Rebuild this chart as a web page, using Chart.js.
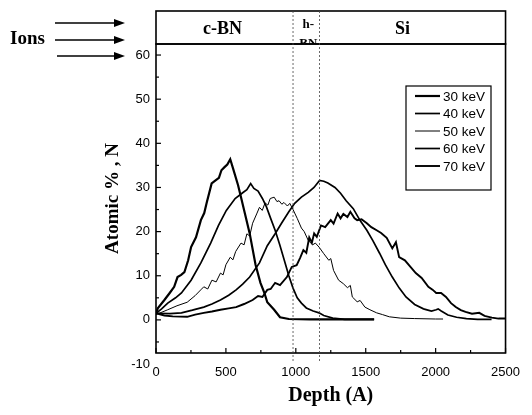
<!DOCTYPE html>
<html>
<head>
<meta charset="utf-8">
<script src="https://cdn.jsdelivr.net/npm/chart.js@4.4.1/dist/chart.umd.min.js"></script>
<style>
html,body{margin:0;padding:0;background:#fff;}
#wrap{position:relative;width:532px;height:415px;}
</style>
</head>
<body>
<div id="wrap"><canvas id="c" width="532" height="415"></canvas></div>
<script>
// ---- data ----
const seriesLabels = ["30 keV", "40 keV", "50 keV", "60 keV", "70 keV"];
const xTickValues = [0, 500, 1000, 1500, 2000, 2500];
const yTickValues = [-10, 0, 10, 20, 30, 40, 50, 60];
const layerLabels = ["c-BN", "h-", "BN", "Si"];
const layerBounds = [980, 1170];

const depth30 = [0, 14, 60, 98, 130, 154, 180, 203, 230, 251, 286, 321, 345, 363, 398, 426, 450, 468, 490, 510, 531, 552, 587, 608, 635, 670, 712, 747, 775, 796, 845, 887, 950, 1100, 1300, 1560];
const n30 = [1.5, 2.7, 4.5, 6.1, 7.5, 9.7, 10.2, 10.8, 13.5, 16.5, 18.7, 22.6, 24.2, 26.6, 30.9, 31.6, 32.2, 33.9, 34.6, 35.2, 36.4, 34.2, 30.5, 27.8, 24.2, 19.6, 12.5, 8.4, 6.1, 4.0, 2.3, 0.6, 0.2, 0.1, 0.1, 0.1];

const depth40 = [0, 40, 84, 140, 182, 251, 321, 391, 447, 503, 566, 620, 650, 677, 700, 730, 761, 790, 820, 852, 885, 915, 950, 980, 1010, 1040, 1075, 1124, 1166, 1200, 1264, 1350, 1560];
const n40 = [1.5, 2.5, 3.8, 5.0, 6.1, 9.0, 12.9, 17.4, 21.4, 24.8, 27.5, 28.8, 29.5, 30.9, 29.8, 29.2, 27.5, 25.6, 23.0, 20.3, 17.0, 13.8, 10.0, 7.2, 5.0, 3.8, 2.7, 2.0, 1.6, 1.0, 0.4, 0.1, 0.1];

const depth50 = [0, 84, 150, 223, 280, 320, 342, 370, 400, 430, 461, 480, 500, 531, 550, 570, 608, 630, 650, 670, 691, 720, 740, 760, 780, 800, 817, 845, 865, 880, 900, 915, 940, 957, 980, 1010, 1040, 1060, 1089, 1120, 1140, 1166, 1200, 1236, 1250, 1270, 1306, 1340, 1369, 1390, 1404, 1439, 1460, 1494, 1530, 1578, 1620, 1669, 1750, 1850, 2000, 2053];
const n50 = [1.2, 2.3, 3.2, 4.0, 5.5, 6.8, 7.5, 7.0, 9.0, 8.6, 10.6, 10.2, 12.5, 14.2, 13.6, 15.5, 17.4, 17.0, 19.5, 19.0, 21.9, 24.0, 25.5, 24.8, 26.5, 26.0, 27.5, 27.8, 26.8, 27.0, 26.2, 26.6, 25.8, 26.4, 25.0, 23.0, 20.8, 20.0, 18.0, 17.0, 17.4, 16.5, 15.0, 13.5, 13.9, 11.2, 9.0, 8.2, 7.3, 7.8, 5.2, 4.1, 4.4, 2.9, 2.3, 1.6, 1.2, 0.7, 0.4, 0.3, 0.2, 0.2];

const depth60 = [0, 100, 182, 260, 342, 400, 461, 520, 573, 620, 670, 740, 796, 852, 900, 950, 992, 1040, 1089, 1130, 1170, 1200, 1229, 1280, 1320, 1360, 1411, 1460, 1508, 1550, 1599, 1640, 1690, 1740, 1788, 1850, 1913, 1970, 2004, 2018, 2040, 2088, 2150, 2220, 2300, 2400];
const n60 = [1.5, 1.4, 1.6, 2.2, 2.9, 3.6, 4.5, 5.6, 6.8, 8.1, 9.7, 12.9, 16.8, 19.5, 22.0, 24.5, 26.4, 27.8, 28.9, 30.0, 31.6, 31.4, 31.0, 30.0, 28.7, 27.0, 25.2, 22.5, 20.3, 18.0, 15.1, 12.5, 9.7, 7.2, 5.2, 3.5, 2.5, 2.0, 2.3, 2.5, 2.0, 1.1, 0.6, 0.3, 0.1, 0.1];

const depth70 = [0, 60, 120, 223, 280, 342, 400, 461, 520, 573, 630, 691, 730, 761, 796, 820, 852, 887, 936, 971, 1006, 1030, 1054, 1075, 1096, 1115, 1131, 1150, 1180, 1210, 1250, 1270, 1299, 1320, 1340, 1369, 1390, 1420, 1439, 1470, 1508, 1540, 1578, 1610, 1650, 1690, 1716, 1739, 1780, 1820, 1858, 1900, 1948, 1980, 2004, 2039, 2074, 2110, 2144, 2180, 2214, 2260, 2312, 2350, 2402, 2450, 2500];
const n70 = [1.5, 1.0, 0.8, 0.7, 1.2, 1.6, 1.9, 2.3, 2.6, 2.9, 3.6, 4.5, 5.4, 5.2, 6.8, 7.0, 8.4, 7.9, 9.7, 12.0, 12.4, 14.0, 15.8, 15.2, 18.7, 17.5, 19.6, 18.8, 21.4, 21.0, 22.6, 21.8, 24.1, 23.0, 24.0, 23.3, 24.5, 23.0, 22.6, 22.8, 21.9, 21.0, 20.3, 19.7, 18.6, 16.2, 17.6, 14.2, 13.5, 12.0, 10.6, 9.5, 7.5, 6.8, 6.1, 6.1, 5.2, 3.8, 2.9, 2.2, 1.8, 1.4, 1.6, 0.9, 0.5, 0.3, 0.3];

const depths = [depth30, depth40, depth50, depth60, depth70];
const values = [n30, n40, n50, n60, n70];
const widths = [2.2, 1.7, 1.0, 1.7, 1.9];

const datasets = seriesLabels.map((lab, i) => ({
  label: lab,
  data: depths[i].map((d, j) => ({x: d, y: values[i][j]})),
  borderColor: '#000',
  backgroundColor: '#000',
  borderWidth: widths[i],
  pointRadius: 0,
  tension: 0,
  fill: false
}));

const tickFont = {family: 'Liberation Sans, Arial, sans-serif', size: 13};
const titleFamily = 'Liberation Serif, Times New Roman, serif';

const decor = {
  id: 'decor',
  afterDraw(chart) {
    const ctx = chart.ctx;
    const a = chart.chartArea;
    const xs = chart.scales.x, ys = chart.scales.y;
    ctx.save();
    ctx.strokeStyle = '#000';
    ctx.fillStyle = '#000';
    // frame
    ctx.lineWidth = 1.6;
    ctx.strokeRect(a.left, a.top, a.right - a.left, a.bottom - a.top);
    // header box
    const hTop = 11;
    ctx.strokeRect(a.left, hTop, a.right - a.left, a.top - hTop);
    // inward ticks
    ctx.lineWidth = 1.2;
    for (let v = 0; v <= 2500; v += 250) {
      const px = xs.getPixelForValue(v);
      const len = v % 500 === 0 ? 5 : 3;
      ctx.beginPath(); ctx.moveTo(px, a.bottom); ctx.lineTo(px, a.bottom - len); ctx.stroke();
    }
    for (let v = -5; v <= 60; v += 5) {
      const py = ys.getPixelForValue(v);
      const len = v % 10 === 0 ? 5 : 3;
      ctx.beginPath(); ctx.moveTo(a.left, py); ctx.lineTo(a.left + len, py); ctx.stroke();
    }
    // layer boundaries (dotted)
    ctx.lineWidth = 0.8;
    ctx.setLineDash([2, 2]);
    ctx.strokeStyle = '#444';
    layerBounds.forEach(b => {
      const px = xs.getPixelForValue(b);
      ctx.beginPath(); ctx.moveTo(px, hTop); ctx.lineTo(px, a.bottom + 10); ctx.stroke();
    });
    ctx.setLineDash([]);
    ctx.strokeStyle = '#000';
    // header labels
    const b1 = xs.getPixelForValue(layerBounds[0]);
    const b2 = xs.getPixelForValue(layerBounds[1]);
    ctx.textAlign = 'center';
    ctx.textBaseline = 'alphabetic';
    ctx.font = 'bold 18px ' + titleFamily;
    ctx.fillText(layerLabels[0], (a.left + b1) / 2 - 2, 34);
    ctx.fillText(layerLabels[3], (b2 + a.right) / 2 - 10, 34);
    ctx.save();
    ctx.beginPath(); ctx.rect(b1, hTop, b2 - b1, a.top - hTop); ctx.clip();
    ctx.font = 'bold 13px ' + titleFamily;
    ctx.fillText(layerLabels[1], (b1 + b2) / 2 + 2, 28);
    ctx.fillText(layerLabels[2], (b1 + b2) / 2 + 2, 47);
    ctx.restore();
    // Ions + arrows
    ctx.textAlign = 'left';
    ctx.font = 'bold 19px ' + titleFamily;
    ctx.fillText('Ions', 10, 44);
    ctx.lineWidth = 1.3;
    [[55, 23], [55, 40], [57, 56]].forEach(([x0, y]) => {
      const x1 = 125;
      ctx.beginPath(); ctx.moveTo(x0, y); ctx.lineTo(x1 - 8, y); ctx.stroke();
      ctx.beginPath(); ctx.moveTo(x1, y); ctx.lineTo(x1 - 11, y - 4); ctx.lineTo(x1 - 11, y + 4); ctx.closePath(); ctx.fill();
    });
    // legend
    const lx = 406, ly = 86, lw = 85, lh = 104;
    ctx.lineWidth = 1.2;
    ctx.strokeRect(lx, ly, lw, lh);
    ctx.font = '13.5px Liberation Sans, Arial, sans-serif';
    ctx.textBaseline = 'middle';
    const rows = [96, 113.5, 131, 148.5, 166];
    chart.data.datasets.forEach((ds, i) => {
      ctx.lineWidth = ds.borderWidth;
      ctx.beginPath(); ctx.moveTo(415, rows[i]); ctx.lineTo(440, rows[i]); ctx.stroke();
      ctx.fillText(ds.label, 443, rows[i] + 1);
    });
    ctx.restore();
  }
};

new Chart(document.getElementById('c'), {
  type: 'line',
  data: {datasets},
  options: {
    responsive: false,
    animation: false,
    layout: {padding: {top: 44, right: 18, left: 0, bottom: 0}},
    plugins: {legend: {display: false}, tooltip: {enabled: false}},
    scales: {
      x: {
        type: 'linear', min: 0, max: 2500,
        afterBuildTicks: s => { s.ticks = xTickValues.map(v => ({value: v})); },
        afterFit: s => { s.height = 62; },
        grid: {display: false, drawTicks: false},
        border: {display: false},
        ticks: {color: '#000', font: tickFont, padding: 12, autoSkip: false, maxRotation: 0, callback: v => String(v)},
        title: {display: true, text: 'Depth (A)', color: '#000', font: {family: titleFamily, size: 20, weight: 'bold'}, padding: {top: 0, bottom: 7}}
      },
      y: {
        type: 'linear', min: -7.5, max: 62.5,
        afterBuildTicks: s => { s.ticks = yTickValues.map(v => ({value: v})); },
        afterFit: s => { s.width = 156; },
        grid: {display: false, drawTicks: false},
        border: {display: false},
        ticks: {color: '#000', font: tickFont, padding: 6, autoSkip: false, callback: v => String(v)},
        title: {display: true, text: 'Atomic % , N', color: '#000', font: {family: titleFamily, size: 19, weight: 'bold'}, padding: {top: 102, bottom: 0}}
      }
    }
  },
  plugins: [decor]
});
</script>
</body>
</html>
